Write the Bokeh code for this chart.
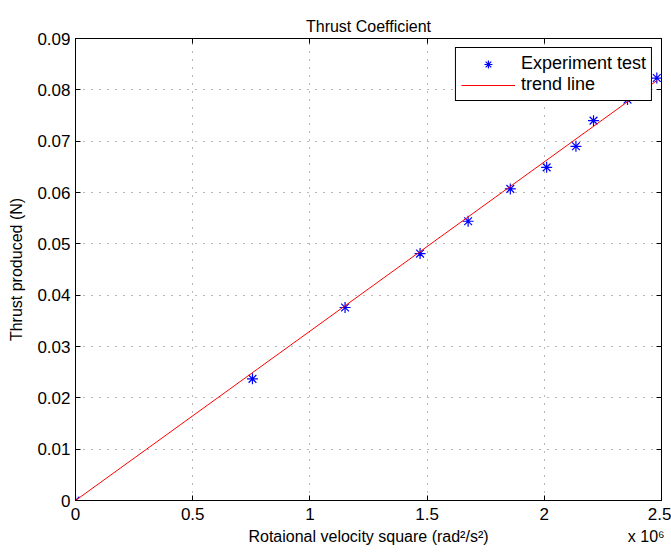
from bokeh.plotting import figure
from bokeh.models import Range1d, FixedTicker, LinearAxis
from bokeh.embed import file_html
from bokeh.resources import INLINE

# ---- data ----
exp_x = [0, 0.755e6, 1.15e6, 1.47e6, 1.675e6, 1.855e6, 2.01e6, 2.135e6, 2.21e6, 2.355e6, 2.48e6]
exp_y = [0, 0.0237, 0.0376, 0.0481, 0.0544, 0.0607, 0.0649, 0.0690, 0.0740, 0.0781, 0.0823]
trend_x = [0, 2.48e6]
trend_y = [0, 0.0818]
x_ticks = [0, 0.5e6, 1.0e6, 1.5e6, 2.0e6, 2.5e6]
x_tick_labels = ["0", "0.5", "1", "1.5", "2", "2.5"]
y_ticks = [0, 0.01, 0.02, 0.03, 0.04, 0.05, 0.06, 0.07, 0.08, 0.09]
y_tick_labels = ["0", "0.01", "0.02", "0.03", "0.04", "0.05", "0.06", "0.07", "0.08", "0.09"]
x_label_text = "Rotaional velocity square (rad²/s²)"
x_scale_text = "x 10⁶"

# layout constants (positions of the under-axis texts)
XLABEL_POS = 1.25e6
XSCALE_POS = 2.435e6

FONT = "Liberation Sans"
FS = "17px"

p = figure(width=671, height=555, output_backend="svg", toolbar_location=None,
           x_range=Range1d(0, 2.5e6), y_range=Range1d(0, 0.09),
           min_border_left=75, min_border_right=10, min_border_top=38, min_border_bottom=55,
           title="Thrust Coefficient")
p.background_fill_color = "white"
p.border_fill_color = "white"
p.outline_line_color = "black"
p.outline_line_width = 1

p.title.align = "center"
p.title.text_font = FONT
p.title.text_font_size = "16px"
p.title.text_font_style = "normal"
p.title.text_color = "black"
p.title.standoff = 8

for ax in [p.xaxis[0], p.yaxis[0]]:
    ax.major_tick_in = 5
    ax.major_tick_out = 0
    ax.minor_tick_line_color = None
    ax.axis_line_color = "black"
    ax.major_tick_line_color = "black"
    ax.major_label_text_font = FONT
    ax.major_label_text_font_size = FS
    ax.major_label_text_color = "black"
    ax.axis_label_text_font = FONT
    ax.axis_label_text_font_size = "16px"
    ax.axis_label_text_font_style = "normal"
    ax.axis_label_text_color = "black"

p.xaxis[0].ticker = FixedTicker(ticks=x_ticks)
p.xaxis[0].major_label_overrides = dict(zip(x_ticks, x_tick_labels))
p.yaxis[0].ticker = FixedTicker(ticks=y_ticks)
p.yaxis[0].major_label_overrides = dict(zip(y_ticks, y_tick_labels))
p.yaxis[0].axis_label = "Thrust produced (N)"
p.xaxis[0].major_label_standoff = 7
p.yaxis[0].major_label_standoff = 5
p.yaxis[0].axis_label_standoff = 9

# second row under the x axis: axis title and the x10^6 multiplier on one line
under = LinearAxis(ticker=FixedTicker(ticks=[XLABEL_POS, XSCALE_POS]),
                   major_label_overrides={XLABEL_POS: x_label_text, XSCALE_POS: x_scale_text},
                   axis_line_color=None, major_tick_line_color=None, minor_tick_line_color=None,
                   major_tick_in=0, major_tick_out=0, major_label_standoff=5,
                   major_label_text_font=FONT, major_label_text_font_size="16px",
                   major_label_text_color="black")
p.add_layout(under, "below")

# mirror axes (box with inward ticks)
top = LinearAxis(ticker=FixedTicker(ticks=x_ticks), major_label_text_font_size="0px",
                 major_tick_in=5, major_tick_out=0, minor_tick_line_color=None,
                 major_label_text_color=None)
right = LinearAxis(ticker=FixedTicker(ticks=y_ticks), major_label_text_font_size="0px",
                   major_tick_in=5, major_tick_out=0, minor_tick_line_color=None,
                   major_label_text_color=None)
p.add_layout(top, "above")
p.add_layout(right, "right")

for g in [p.xgrid[0], p.ygrid[0]]:
    g.grid_line_color = "black"
    g.grid_line_alpha = 0.55
    g.grid_line_dash = "1 7"
    g.grid_line_width = 1
p.xgrid[0].ticker = FixedTicker(ticks=x_ticks)
p.ygrid[0].ticker = FixedTicker(ticks=y_ticks)

p.scatter(exp_x, exp_y, marker="asterisk", size=11, line_color="blue", line_width=1.2,
          legend_label="Experiment test")
p.line(trend_x, trend_y, line_color="red", line_width=1, legend_label="trend line")

legend = p.legend[0]
legend.location = "top_right"
legend.margin = 9
legend.padding = 5
legend.spacing = 0
legend.glyph_width = 54
legend.glyph_height = 20
legend.label_height = 20
legend.label_standoff = 6
legend.label_text_font = FONT
legend.label_text_font_size = "18px"
legend.label_text_color = "black"
legend.border_line_color = "black"
legend.border_line_width = 1
legend.border_line_alpha = 1
legend.background_fill_color = "white"
legend.background_fill_alpha = 1

open("out.html", "w").write(file_html(p, INLINE))
